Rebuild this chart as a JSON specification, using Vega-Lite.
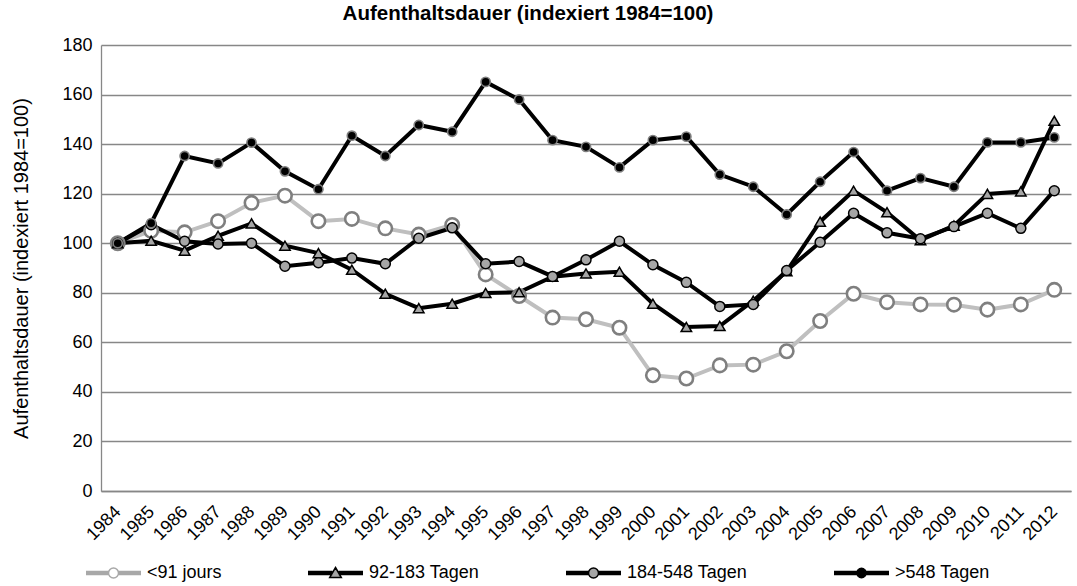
{
  "$schema": "https://vega.github.io/schema/vega-lite/v6.json",
  "width": 970,
  "height": 446,
  "autosize": "none",
  "padding": {"left": 101, "top": 45, "right": 6, "bottom": 95},
  "background": "white",
  "config": {
    "font": "Liberation Sans",
    "view": {"stroke": null}
  },
  "title": {
    "text": "Aufenthaltsdauer (indexiert 1984=100)",
    "font": "Liberation Sans",
    "fontSize": 20.5,
    "fontWeight": "bold",
    "color": "black",
    "anchor": "middle",
    "offset": 12,
    "dx": -58
  },
  "datasets": {
    "rows": [
      {"year": "1984", "series": "<91 jours", "value": 100},
      {"year": "1985", "series": "<91 jours", "value": 105},
      {"year": "1986", "series": "<91 jours", "value": 104.4},
      {"year": "1987", "series": "<91 jours", "value": 108.9},
      {"year": "1988", "series": "<91 jours", "value": 116.3},
      {"year": "1989", "series": "<91 jours", "value": 119.2},
      {"year": "1990", "series": "<91 jours", "value": 108.9},
      {"year": "1991", "series": "<91 jours", "value": 109.8},
      {"year": "1992", "series": "<91 jours", "value": 106.0},
      {"year": "1993", "series": "<91 jours", "value": 103.5},
      {"year": "1994", "series": "<91 jours", "value": 107.4},
      {"year": "1995", "series": "<91 jours", "value": 87.4},
      {"year": "1996", "series": "<91 jours", "value": 78.7},
      {"year": "1997", "series": "<91 jours", "value": 70.0},
      {"year": "1998", "series": "<91 jours", "value": 69.3},
      {"year": "1999", "series": "<91 jours", "value": 65.9},
      {"year": "2000", "series": "<91 jours", "value": 46.7},
      {"year": "2001", "series": "<91 jours", "value": 45.4},
      {"year": "2002", "series": "<91 jours", "value": 50.7},
      {"year": "2003", "series": "<91 jours", "value": 51.0},
      {"year": "2004", "series": "<91 jours", "value": 56.4},
      {"year": "2005", "series": "<91 jours", "value": 68.6},
      {"year": "2006", "series": "<91 jours", "value": 79.6},
      {"year": "2007", "series": "<91 jours", "value": 76.2},
      {"year": "2008", "series": "<91 jours", "value": 75.3},
      {"year": "2009", "series": "<91 jours", "value": 75.2},
      {"year": "2010", "series": "<91 jours", "value": 73.2},
      {"year": "2011", "series": "<91 jours", "value": 75.3},
      {"year": "2012", "series": "<91 jours", "value": 81.2},
      {"year": "1984", "series": "92-183 Tagen", "value": 100},
      {"year": "1985", "series": "92-183 Tagen", "value": 101},
      {"year": "1986", "series": "92-183 Tagen", "value": 97},
      {"year": "1987", "series": "92-183 Tagen", "value": 103},
      {"year": "1988", "series": "92-183 Tagen", "value": 108},
      {"year": "1989", "series": "92-183 Tagen", "value": 99},
      {"year": "1990", "series": "92-183 Tagen", "value": 96},
      {"year": "1991", "series": "92-183 Tagen", "value": 89.3},
      {"year": "1992", "series": "92-183 Tagen", "value": 79.6},
      {"year": "1993", "series": "92-183 Tagen", "value": 73.8},
      {"year": "1994", "series": "92-183 Tagen", "value": 75.6},
      {"year": "1995", "series": "92-183 Tagen", "value": 79.9},
      {"year": "1996", "series": "92-183 Tagen", "value": 80.2},
      {"year": "1997", "series": "92-183 Tagen", "value": 86.5},
      {"year": "1998", "series": "92-183 Tagen", "value": 87.8},
      {"year": "1999", "series": "92-183 Tagen", "value": 88.5},
      {"year": "2000", "series": "92-183 Tagen", "value": 75.6},
      {"year": "2001", "series": "92-183 Tagen", "value": 66.2},
      {"year": "2002", "series": "92-183 Tagen", "value": 66.6},
      {"year": "2003", "series": "92-183 Tagen", "value": 76.8},
      {"year": "2004", "series": "92-183 Tagen", "value": 88.7},
      {"year": "2005", "series": "92-183 Tagen", "value": 108.7},
      {"year": "2006", "series": "92-183 Tagen", "value": 121.2},
      {"year": "2007", "series": "92-183 Tagen", "value": 112.5},
      {"year": "2008", "series": "92-183 Tagen", "value": 101.2},
      {"year": "2009", "series": "92-183 Tagen", "value": 107.1},
      {"year": "2010", "series": "92-183 Tagen", "value": 119.9},
      {"year": "2011", "series": "92-183 Tagen", "value": 120.9},
      {"year": "2012", "series": "92-183 Tagen", "value": 149.4},
      {"year": "1984", "series": "184-548 Tagen", "value": 100},
      {"year": "1985", "series": "184-548 Tagen", "value": 107.5},
      {"year": "1986", "series": "184-548 Tagen", "value": 100.8},
      {"year": "1987", "series": "184-548 Tagen", "value": 99.7},
      {"year": "1988", "series": "184-548 Tagen", "value": 100},
      {"year": "1989", "series": "184-548 Tagen", "value": 90.7},
      {"year": "1990", "series": "184-548 Tagen", "value": 92.1},
      {"year": "1991", "series": "184-548 Tagen", "value": 94.0},
      {"year": "1992", "series": "184-548 Tagen", "value": 91.7},
      {"year": "1993", "series": "184-548 Tagen", "value": 102.0},
      {"year": "1994", "series": "184-548 Tagen", "value": 106.2},
      {"year": "1995", "series": "184-548 Tagen", "value": 91.7},
      {"year": "1996", "series": "184-548 Tagen", "value": 92.6},
      {"year": "1997", "series": "184-548 Tagen", "value": 86.6},
      {"year": "1998", "series": "184-548 Tagen", "value": 93.3},
      {"year": "1999", "series": "184-548 Tagen", "value": 100.8},
      {"year": "2000", "series": "184-548 Tagen", "value": 91.3},
      {"year": "2001", "series": "184-548 Tagen", "value": 84.2},
      {"year": "2002", "series": "184-548 Tagen", "value": 74.5},
      {"year": "2003", "series": "184-548 Tagen", "value": 75.3},
      {"year": "2004", "series": "184-548 Tagen", "value": 89.0},
      {"year": "2005", "series": "184-548 Tagen", "value": 100.4},
      {"year": "2006", "series": "184-548 Tagen", "value": 112.1},
      {"year": "2007", "series": "184-548 Tagen", "value": 104.2},
      {"year": "2008", "series": "184-548 Tagen", "value": 101.8},
      {"year": "2009", "series": "184-548 Tagen", "value": 106.7},
      {"year": "2010", "series": "184-548 Tagen", "value": 112.1},
      {"year": "2011", "series": "184-548 Tagen", "value": 106.0},
      {"year": "2012", "series": "184-548 Tagen", "value": 121.2},
      {"year": "1984", "series": ">548 Tagen", "value": 100},
      {"year": "1985", "series": ">548 Tagen", "value": 108.1},
      {"year": "1986", "series": ">548 Tagen", "value": 135.2},
      {"year": "1987", "series": ">548 Tagen", "value": 132.2},
      {"year": "1988", "series": ">548 Tagen", "value": 140.6},
      {"year": "1989", "series": ">548 Tagen", "value": 129.0},
      {"year": "1990", "series": ">548 Tagen", "value": 121.8},
      {"year": "1991", "series": ">548 Tagen", "value": 143.4},
      {"year": "1992", "series": ">548 Tagen", "value": 135.2},
      {"year": "1993", "series": ">548 Tagen", "value": 147.7},
      {"year": "1994", "series": ">548 Tagen", "value": 145.0},
      {"year": "1995", "series": ">548 Tagen", "value": 165.1},
      {"year": "1996", "series": ">548 Tagen", "value": 158.0},
      {"year": "1997", "series": ">548 Tagen", "value": 141.6},
      {"year": "1998", "series": ">548 Tagen", "value": 138.9},
      {"year": "1999", "series": ">548 Tagen", "value": 130.6},
      {"year": "2000", "series": ">548 Tagen", "value": 141.6},
      {"year": "2001", "series": ">548 Tagen", "value": 143.0},
      {"year": "2002", "series": ">548 Tagen", "value": 127.7},
      {"year": "2003", "series": ">548 Tagen", "value": 122.8},
      {"year": "2004", "series": ">548 Tagen", "value": 111.6},
      {"year": "2005", "series": ">548 Tagen", "value": 124.8},
      {"year": "2006", "series": ">548 Tagen", "value": 136.8},
      {"year": "2007", "series": ">548 Tagen", "value": 121.2},
      {"year": "2008", "series": ">548 Tagen", "value": 126.3},
      {"year": "2009", "series": ">548 Tagen", "value": 122.8},
      {"year": "2010", "series": ">548 Tagen", "value": 140.7},
      {"year": "2011", "series": ">548 Tagen", "value": 140.7},
      {"year": "2012", "series": ">548 Tagen", "value": 142.7}
    ]
  },
  "data": {"name": "rows"},
  "encoding": {
    "x": {
      "field": "year",
      "type": "ordinal",
      "sort": null,
      "scale": {"type": "point", "padding": 0.5},
      "axis": {
        "title": null,
        "labelAngle": -45,
        "labelAlign": "right",
        "labelBaseline": "middle",
        "labelPadding": 18,
        "labelFontSize": 18,
        "labelColor": "black",
        "labelFont": "Liberation Sans",
        "labelOverlap": false,
        "ticks": false,
        "grid": false,
        "domainColor": "#878787",
        "domainWidth": 1.3
      }
    },
    "y": {
      "field": "value",
      "type": "quantitative",
      "scale": {"domain": [0, 180], "nice": false, "zero": true},
      "axis": {
        "values": [0, 20, 40, 60, 80, 100, 120, 140, 160, 180],
        "title": "Aufenthaltsdauer (indexiert  1984=100)",
        "titleFontSize": 20,
        "titleFontWeight": "normal",
        "titleFont": "Liberation Sans",
        "titleColor": "black",
        "titlePadding": 30,
        "labelFontSize": 18,
        "labelColor": "black",
        "labelFont": "Liberation Sans",
        "labelPadding": 9,
        "ticks": false,
        "grid": true,
        "gridColor": "#878787",
        "gridWidth": 1.3,
        "domainColor": "#878787",
        "domainWidth": 1.3
      }
    }
  },
  "layer": [
    {
      "mark": {"type": "line", "strokeWidth": 4},
      "encoding": {
        "stroke": {
          "field": "series",
          "type": "nominal",
          "scale": {
            "domain": [">548 Tagen", "184-548 Tagen", "92-183 Tagen", "<91 jours"],
            "range": ["#000000", "#000000", "#000000", "#bfbfbf"]
          },
          "legend": null
        }
      }
    },
    {
      "mark": {"type": "point", "filled": true, "opacity": 1},
      "encoding": {
        "shape": {
          "field": "series",
          "type": "nominal",
          "scale": {
            "domain": [">548 Tagen", "184-548 Tagen", "92-183 Tagen", "<91 jours"],
            "range": ["circle", "circle", "triangle-up", "circle"]
          },
          "legend": null
        },
        "fill": {
          "field": "series",
          "type": "nominal",
          "scale": {
            "domain": [">548 Tagen", "184-548 Tagen", "92-183 Tagen", "<91 jours"],
            "range": ["#000000", "#a6a6a6", "#a6a6a6", "#ffffff"]
          },
          "legend": null
        },
        "stroke": {
          "field": "series",
          "type": "nominal",
          "scale": {
            "domain": [">548 Tagen", "184-548 Tagen", "92-183 Tagen", "<91 jours"],
            "range": ["#7f7f7f", "#000000", "#000000", "#7f7f7f"]
          },
          "legend": null
        },
        "size": {
          "field": "series",
          "type": "nominal",
          "scale": {
            "type": "ordinal",
            "domain": [">548 Tagen", "184-548 Tagen", "92-183 Tagen", "<91 jours"],
            "range": [85, 100, 110, 180]
          },
          "legend": null
        },
        "strokeWidth": {
          "field": "series",
          "type": "nominal",
          "scale": {
            "type": "ordinal",
            "domain": [">548 Tagen", "184-548 Tagen", "92-183 Tagen", "<91 jours"],
            "range": [1.6, 1.5, 1.5, 2.6]
          },
          "legend": null
        }
      }
    },
    {
      "transform": [{"filter": "false"}],
      "mark": {"type": "point", "filled": true, "opacity": 1},
      "encoding": {
        "shape": {
          "field": "series",
          "type": "nominal",
          "scale": {
            "domain": ["<91 jours", "92-183 Tagen", "184-548 Tagen", ">548 Tagen"],
            "range": [
              "M-27.5,-1.5H-4.8M-27.5,-0.5H-4.8M-27.5,0.5H-4.8M-27.5,1.5H-4.8M4.8,-1.5H27.5M4.8,-0.5H27.5M4.8,0.5H27.5M4.8,1.5H27.5M5,0A5,5 0 1,1 -5,0A5,5 0 1,1 5,0Z",
              "M-27.5,-1.5H-3.2M-27.5,-0.5H-3.2M-27.5,0.5H-3.2M-27.5,1.5H-3.2M3.2,-1.5H27.5M3.2,-0.5H27.5M3.2,0.5H27.5M3.2,1.5H27.5M0,-5.5L5.8,4.5L-5.8,4.5Z",
              "M-27.5,-1.5H-4.8M-27.5,-0.5H-4.8M-27.5,0.5H-4.8M-27.5,1.5H-4.8M4.8,-1.5H27.5M4.8,-0.5H27.5M4.8,0.5H27.5M4.8,1.5H27.5M5,0A5,5 0 1,1 -5,0A5,5 0 1,1 5,0Z",
              "M-27.5,-1.5H-4.5M-27.5,-0.5H-4.5M-27.5,0.5H-4.5M-27.5,1.5H-4.5M4.5,-1.5H27.5M4.5,-0.5H27.5M4.5,0.5H27.5M4.5,1.5H27.5M4.7,0A4.7,4.7 0 1,1 -4.7,0A4.7,4.7 0 1,1 4.7,0Z"
            ]
          },
          "legend": {
            "title": null,
            "orient": "none",
            "legendX": -17,
            "legendY": 519,
            "direction": "horizontal",
            "padding": 0,
            "symbolSize": 4,
            "symbolStrokeWidth": 1.5,
            "symbolOpacity": 1,
            "symbolOffset": 20.5,
            "labelOffset": 24.5,
            "labelFontSize": 18,
            "labelFont": "Liberation Sans",
            "labelColor": "black",
            "columnPadding": 83
          }
        },
        "fill": {
          "field": "series",
          "type": "nominal",
          "scale": {
            "domain": ["<91 jours", "92-183 Tagen", "184-548 Tagen", ">548 Tagen"],
            "range": ["#ffffff", "#a6a6a6", "#a6a6a6", "#000000"]
          },
          "legend": {
            "title": null,
            "orient": "none",
            "legendX": -17,
            "legendY": 519,
            "direction": "horizontal",
            "padding": 0,
            "symbolSize": 4,
            "symbolStrokeWidth": 1.5,
            "symbolOpacity": 1,
            "symbolOffset": 20.5,
            "labelOffset": 24.5,
            "labelFontSize": 18,
            "labelFont": "Liberation Sans",
            "labelColor": "black",
            "columnPadding": 83
          }
        },
        "stroke": {
          "field": "series",
          "type": "nominal",
          "scale": {
            "domain": ["<91 jours", "92-183 Tagen", "184-548 Tagen", ">548 Tagen"],
            "range": ["#a8a8a8", "#000000", "#000000", "#000000"]
          },
          "legend": {
            "title": null,
            "orient": "none",
            "legendX": -17,
            "legendY": 519,
            "direction": "horizontal",
            "padding": 0,
            "symbolSize": 4,
            "symbolStrokeWidth": 1.5,
            "symbolOpacity": 1,
            "symbolOffset": 20.5,
            "labelOffset": 24.5,
            "labelFontSize": 18,
            "labelFont": "Liberation Sans",
            "labelColor": "black",
            "columnPadding": 83
          }
        }
      }
    }
  ],
  "resolve": {
    "scale": {"stroke": "independent", "fill": "independent", "shape": "independent"},
    "legend": {"stroke": "independent", "fill": "independent", "shape": "independent"}
  }
}
